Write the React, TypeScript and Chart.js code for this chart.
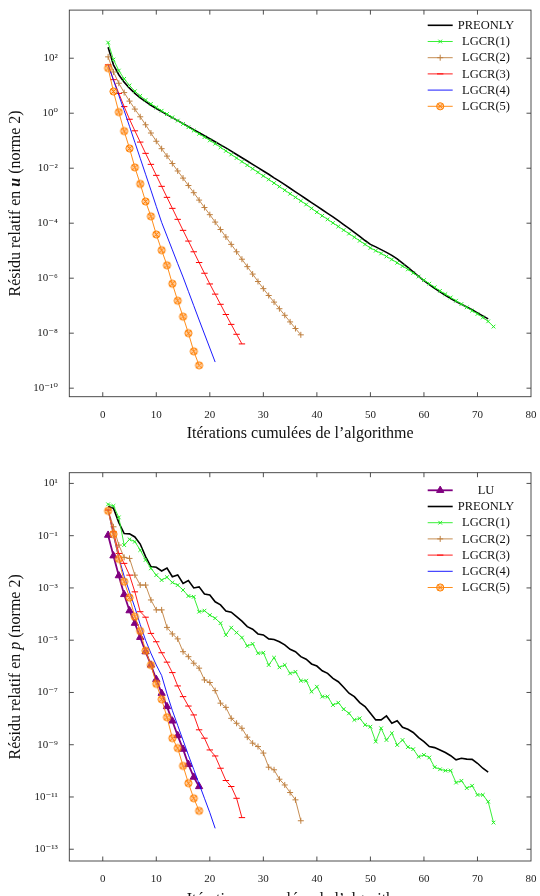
import React, { useEffect, useRef } from 'react';
import { Chart, registerables } from 'chart.js';

Chart.register(...registerables);

const SERIF = '"Liberation Serif", "DejaVu Serif", serif';

// ---------- DATA (log10 of the relative residual; iteration = index + 1) ----------
// Panel 1: residual on u
const U_PREONLY = [2.40, 1.76, 1.40, 1.13, 0.91, 0.72, 0.56, 0.42, 0.29, 0.17, 0.06, -0.05, -0.16, -0.27, -0.38, -0.49, -0.60, -0.71, -0.82, -0.93,
  -1.04, -1.15, -1.26, -1.38, -1.50, -1.62, -1.74, -1.86, -1.98, -2.10, -2.22, -2.35, -2.47, -2.60, -2.73, -2.86, -2.99, -3.12, -3.25, -3.38,
  -3.51, -3.64, -3.77, -3.91, -4.05, -4.19, -4.33, -4.48, -4.63, -4.77, -4.86, -4.96, -5.06, -5.17, -5.30, -5.45, -5.61, -5.77, -5.93, -6.09,
  -6.23, -6.37, -6.50, -6.62, -6.74, -6.85, -6.95, -7.05, -7.15, -7.26, -7.37, -7.48];
const U_LGCR1 = [2.57, 1.95, 1.55, 1.25, 1.01, 0.80, 0.63, 0.48, 0.34, 0.21, 0.09, -0.03, -0.15, -0.27, -0.39, -0.51, -0.63, -0.75, -0.87, -0.99,
  -1.11, -1.24, -1.37, -1.50, -1.63, -1.76, -1.89, -2.02, -2.15, -2.28, -2.41, -2.54, -2.67, -2.80, -2.93, -3.06, -3.19, -3.32, -3.46, -3.60,
  -3.73, -3.86, -3.99, -4.12, -4.25, -4.38, -4.51, -4.64, -4.77, -4.90, -5.00, -5.10, -5.21, -5.32, -5.44, -5.56, -5.68, -5.81, -5.94, -6.07,
  -6.20, -6.33, -6.46, -6.58, -6.70, -6.82, -6.94, -7.06, -7.18, -7.30, -7.43, -7.57, -7.76];
const U_LGCR2 = [2.05, 1.50, 1.09, 0.75, 0.44, 0.15, -0.13, -0.42, -0.72, -1.02, -1.29, -1.56, -1.83, -2.10, -2.36, -2.63, -2.89, -3.16, -3.43, -3.69,
  -3.96, -4.23, -4.50, -4.77, -5.04, -5.31, -5.58, -5.85, -6.12, -6.38, -6.63, -6.87, -7.11, -7.35, -7.59, -7.83, -8.06];
const U_LGCR3 = [1.76, 1.22, 0.72, 0.24, -0.22, -0.64, -1.05, -1.46, -1.86, -2.26, -2.66, -3.06, -3.46, -3.86, -4.26, -4.65, -5.04, -5.43, -5.82, -6.21,
  -6.58, -6.95, -7.32, -7.68, -8.04, -8.39];
const U_LGCR4 = [1.76, 1.20, 0.65, 0.10, -0.48, -1.06, -1.64, -2.22, -2.80, -3.39, -3.97, -4.47, -4.97, -5.47, -5.96, -6.48, -7.00, -7.52, -8.03, -8.54, -9.05];
const U_LGCR5 = [1.64, 0.79, 0.04, -0.65, -1.28, -1.97, -2.57, -3.21, -3.75, -4.41, -4.98, -5.53, -6.20, -6.82, -7.40, -8.00, -8.66, -9.17];

// Panel 2: residual on p
const P_LU = [-0.98, -1.77, -2.53, -3.25, -3.87, -4.35, -4.89, -5.44, -5.95, -6.50, -7.03, -7.54, -8.09, -8.65, -9.17, -9.75, -10.24, -10.60];
const P_PREONLY = [0.12, 0.05, -0.50, -0.92, -0.93, -1.05, -1.32, -1.80, -2.18, -2.21, -2.35, -2.24, -2.57, -2.50, -2.83, -2.72, -3.00, -2.96, -3.23, -3.27,
  -3.53, -3.65, -3.88, -3.93, -4.10, -4.27, -4.48, -4.58, -4.76, -4.80, -4.95, -4.97, -5.06, -5.18, -5.35, -5.44, -5.63, -5.73, -5.91, -5.99,
  -6.17, -6.27, -6.46, -6.59, -6.80, -7.03, -7.16, -7.39, -7.54, -7.80, -8.05, -8.05, -7.90, -8.18, -8.08, -8.33, -8.41, -8.53, -8.73, -8.88,
  -9.07, -9.11, -9.20, -9.30, -9.42, -9.58, -9.52, -9.55, -9.56, -9.71, -9.90, -10.05];
const P_LGCR1 = [0.20, 0.14, -0.30, -1.36, -1.14, -1.23, -1.55, -1.93, -2.25, -2.51, -2.70, -2.59, -2.79, -2.89, -3.08, -3.31, -3.34, -3.91, -3.87, -4.04,
  -4.16, -4.35, -4.80, -4.52, -4.71, -4.90, -5.22, -5.14, -5.50, -5.48, -5.95, -5.67, -6.04, -5.95, -6.27, -6.21, -6.55, -6.55, -6.97, -6.78,
  -7.16, -7.16, -7.48, -7.39, -7.64, -7.80, -8.05, -7.99, -8.24, -8.31, -8.88, -8.37, -8.82, -8.56, -9.01, -8.82, -9.09, -9.17, -9.46, -9.39,
  -9.49, -9.86, -9.94, -9.99, -9.99, -10.45, -10.38, -10.66, -10.57, -10.92, -10.92, -11.18, -11.98];
const P_LGCR2 = [-0.02, -0.66, -1.36, -1.83, -1.87, -2.51, -2.89, -2.89, -3.46, -3.84, -3.84, -4.51, -4.76, -4.95, -5.44, -5.63, -5.88, -6.07, -6.52, -6.62,
  -6.93, -7.41, -7.57, -7.99, -8.18, -8.37, -8.71, -8.94, -9.07, -9.32, -9.86, -9.96, -10.32, -10.54, -10.83, -11.11, -11.91];
const P_LGCR3 = [-0.02, -0.85, -1.68, -2.06, -2.51, -3.15, -3.91, -4.12, -4.74, -5.06, -5.48, -5.84, -6.24, -6.75, -7.16, -7.52, -7.86, -8.43, -8.75, -9.20,
  -9.43, -9.90, -10.37, -10.60, -11.05, -11.79];
const P_LGCR4 = [0.00, -1.00, -1.85, -2.55, -3.15, -3.75, -4.40, -5.00, -5.50, -5.95, -6.35, -7.05, -7.69, -8.26, -8.83, -9.40, -9.95, -10.50, -11.05, -11.60, -12.20];
const P_LGCR5 = [-0.05, -0.94, -1.89, -2.76, -3.37, -4.10, -4.65, -5.40, -5.95, -6.67, -7.26, -7.95, -8.75, -9.13, -9.81, -10.47, -11.05, -11.53];

const LABELS_U = ['PREONLY', 'LGCR(1)', 'LGCR(2)', 'LGCR(3)', 'LGCR(4)', 'LGCR(5)'];
const LABELS_P = ['LU', 'PREONLY', 'LGCR(1)', 'LGCR(2)', 'LGCR(3)', 'LGCR(4)', 'LGCR(5)'];

const X_TICKS = [0, 10, 20, 30, 40, 50, 60, 70, 80];
const U_Y_EXPONENTS = [-10, -8, -6, -4, -2, 0, 2];
const P_Y_EXPONENTS = [-13, -11, -9, -7, -5, -3, -1, 1];

const X_TITLE = 'Itérations cumulées de l’algorithme';

// ---------- STYLES ----------
type Marker = 'none' | 'crossRot' | 'cross' | 'line' | 'otimes' | 'triangle';
interface SeriesStyle { color: string; width: number; marker: Marker; r: number; fill?: string }
const STYLE: Record<string, SeriesStyle> = {
  LU: { color: '#800080', width: 1.8, marker: 'triangle', r: 4.2 },
  PREONLY: { color: '#000000', width: 1.6, marker: 'none', r: 0 },
  'LGCR(1)': { color: '#22ee22', width: 0.9, marker: 'crossRot', r: 2.6 },
  'LGCR(2)': { color: '#bf8040', width: 0.9, marker: 'cross', r: 3 },
  'LGCR(3)': { color: '#ff0000', width: 0.9, marker: 'line', r: 3.2 },
  'LGCR(4)': { color: '#0000ff', width: 0.9, marker: 'none', r: 0 },
  'LGCR(5)': { color: '#ff8000', width: 0.9, marker: 'otimes', r: 3.6, fill: 'rgba(255,150,60,0.45)' },
};

const SUP: Record<string, string> = { '0': '⁰', '1': '¹', '2': '²', '3': '³', '4': '⁴', '5': '⁵', '6': '⁶', '7': '⁷', '8': '⁸', '9': '⁹', '-': '⁻' };
function pow10Label(e: number): string {
  return '10' + String(e).split('').map((c) => SUP[c] || c).join('');
}

function drawMarker(ctx: CanvasRenderingContext2D, st: SeriesStyle, x: number, y: number) {
  const r = st.r;
  ctx.save();
  ctx.strokeStyle = st.color;
  ctx.fillStyle = st.fill || st.color;
  ctx.lineWidth = 1;
  ctx.beginPath();
  if (st.marker === 'crossRot' || st.marker === 'otimes') {
    if (st.marker === 'otimes') {
      ctx.arc(x, y, r, 0, Math.PI * 2);
      ctx.fill();
      ctx.stroke();
      ctx.beginPath();
    }
    const d = r * 0.7071;
    ctx.moveTo(x - d, y - d); ctx.lineTo(x + d, y + d);
    ctx.moveTo(x - d, y + d); ctx.lineTo(x + d, y - d);
    ctx.stroke();
  } else if (st.marker === 'cross') {
    ctx.moveTo(x - r, y); ctx.lineTo(x + r, y);
    ctx.moveTo(x, y - r); ctx.lineTo(x, y + r);
    ctx.stroke();
  } else if (st.marker === 'line') {
    ctx.moveTo(x - r, y); ctx.lineTo(x + r, y);
    ctx.stroke();
  } else if (st.marker === 'triangle') {
    ctx.moveTo(x, y - r);
    ctx.lineTo(x + r * 0.866, y + r * 0.5);
    ctx.lineTo(x - r * 0.866, y + r * 0.5);
    ctx.closePath();
    ctx.fill();
    ctx.stroke();
  }
  ctx.restore();
}

function makeOtimesImage(st: SeriesStyle): HTMLCanvasElement {
  const c = document.createElement('canvas');
  const s = Math.ceil(st.r * 2 + 3);
  c.width = s; c.height = s;
  const ctx = c.getContext('2d') as CanvasRenderingContext2D;
  drawMarker(ctx, st, s / 2, s / 2);
  return c;
}

// ---------- PLUGINS ----------
const framePlugin = {
  id: 'pgfFrame',
  afterDraw(chart: any) {
    const { ctx, chartArea: a, scales } = chart;
    const L = 4.5;
    ctx.save();
    ctx.strokeStyle = '#3a3a3a';
    ctx.lineWidth = 0.9;
    ctx.strokeRect(a.left, a.top, a.right - a.left, a.bottom - a.top);
    ctx.beginPath();
    scales.x.ticks.forEach((t: any) => {
      const px = scales.x.getPixelForValue(t.value);
      if (px > a.left + 1 && px < a.right - 1) {
        ctx.moveTo(px, a.bottom); ctx.lineTo(px, a.bottom - L);
        ctx.moveTo(px, a.top); ctx.lineTo(px, a.top + L);
      }
    });
    scales.y.ticks.forEach((t: any) => {
      const py = scales.y.getPixelForValue(t.value);
      ctx.moveTo(a.left, py); ctx.lineTo(a.left + L, py);
      ctx.moveTo(a.right, py); ctx.lineTo(a.right - L, py);
    });
    ctx.stroke();
    ctx.restore();
  },
};

const legendPlugin = {
  id: 'pgfLegend',
  afterDraw(chart: any, _args: any, opts: any) {
    const { ctx } = chart;
    ctx.save();
    ctx.font = `${opts.fontSize}px ${SERIF}`;
    ctx.textAlign = 'center';
    ctx.textBaseline = 'middle';
    chart.data.datasets.forEach((ds: any, i: number) => {
      const st: SeriesStyle = STYLE[ds.label];
      const y = opts.y0 + i * opts.dy;
      ctx.strokeStyle = st.color;
      ctx.lineWidth = st.width;
      ctx.beginPath();
      ctx.moveTo(opts.x0, y);
      ctx.lineTo(opts.x1, y);
      ctx.stroke();
      if (st.marker !== 'none') drawMarker(ctx, st, (opts.x0 + opts.x1) / 2, y);
      ctx.fillStyle = '#111';
      ctx.fillText(ds.label, opts.textX, y + 0.5);
    });
    ctx.restore();
  },
};

const yTitlePlugin = {
  id: 'pgfYTitle',
  afterDraw(chart: any, _args: any, opts: any) {
    const { ctx, chartArea: a } = chart;
    const parts: { text: string; font: string }[] = opts.parts;
    ctx.save();
    let total = 0;
    parts.forEach((p) => { ctx.font = p.font; total += ctx.measureText(p.text).width; });
    ctx.translate(opts.x, (a.top + a.bottom) / 2);
    ctx.rotate(-Math.PI / 2);
    ctx.textBaseline = 'middle';
    ctx.textAlign = 'left';
    ctx.fillStyle = '#111';
    let cx = -total / 2;
    parts.forEach((p) => {
      ctx.font = p.font;
      ctx.fillText(p.text, cx, 0);
      cx += ctx.measureText(p.text).width;
    });
    ctx.restore();
  },
};

// ---------- CHART ----------
interface PanelSpec {
  height: number;
  series: number[][];
  labels: string[];
  yExps: number[];
  yMinExp: number;
  yMaxExp: number;
  padTop: number;
  xAxisHeight: number;
  xTitlePadBottom: number;
  legendY0: number;
  symbol: string;
  symbolFont: string;
}

const TITLE_SIZE = 16;
const TICK_SIZE = 11;

function buildConfig(p: PanelSpec): any {
  const n = p.series.length;
  const datasets = p.series.map((vals, i) => {
    const label = p.labels[i];
    const st = STYLE[label];
    const pointStyle: any = st.marker === 'otimes' ? makeOtimesImage(st) : st.marker === 'none' ? false : st.marker;
    return {
      label,
      data: vals.map((v, k) => ({ x: k + 1, y: Math.pow(10, v) })),
      borderColor: st.color,
      backgroundColor: st.color,
      borderWidth: st.width,
      pointStyle,
      pointRadius: st.marker === 'none' ? 0 : st.r,
      pointHoverRadius: st.marker === 'none' ? 0 : st.r,
      pointBorderWidth: 1,
      pointBorderColor: st.color,
      pointBackgroundColor: st.color,
      tension: 0,
      order: n - i,
    };
  });
  return {
    type: 'line',
    data: { datasets },
    plugins: [framePlugin, legendPlugin, yTitlePlugin],
    options: {
      animation: false,
      responsive: false,
      devicePixelRatio: 1,
      events: [],
      layout: { padding: { top: p.padTop, right: 8.3, bottom: 0, left: 0 } },
      plugins: {
        legend: { display: false },
        tooltip: { enabled: false },
        pgfLegend: { x0: 427.7, x1: 452.7, textX: 486, y0: p.legendY0, dy: 16.2, fontSize: 12.5 },
        pgfYTitle: {
          x: 16,
          parts: [
            { text: 'Résidu relatif en ', font: `${TITLE_SIZE}px ${SERIF}` },
            { text: p.symbol, font: p.symbolFont },
            { text: ' (norme 2)', font: `${TITLE_SIZE}px ${SERIF}` },
          ],
        },
      },
      scales: {
        x: {
          type: 'linear',
          min: -6.25,
          max: 80,
          grid: { display: false },
          border: { display: false },
          afterBuildTicks: (s: any) => { s.ticks = X_TICKS.map((v) => ({ value: v })); },
          afterFit: (s: any) => { s.height = p.xAxisHeight; },
          ticks: { autoSkip: false, maxRotation: 0, padding: 3.5, color: '#222', font: { size: TICK_SIZE, family: SERIF } },
          title: {
            display: true,
            text: X_TITLE,
            color: '#111',
            font: { size: TITLE_SIZE, family: SERIF },
            padding: { top: 0, bottom: p.xTitlePadBottom },
          },
        },
        y: {
          type: 'logarithmic',
          min: Math.pow(10, p.yMinExp),
          max: Math.pow(10, p.yMaxExp),
          grid: { display: false },
          border: { display: false },
          afterBuildTicks: (s: any) => { s.ticks = p.yExps.map((e) => ({ value: Math.pow(10, e) })); },
          afterFit: (s: any) => { s.width = 69.3; },
          ticks: {
            padding: 3.5,
            color: '#222',
            font: { size: TICK_SIZE, family: SERIF },
            callback: (v: any) => pow10Label(Math.round(Math.log10(Number(v)))),
          },
        },
      },
    },
  };
}

const PANEL_U: PanelSpec = {
  height: 448,
  series: [U_PREONLY, U_LGCR1, U_LGCR2, U_LGCR3, U_LGCR4, U_LGCR5],
  labels: LABELS_U,
  yExps: U_Y_EXPONENTS,
  yMinExp: -10.31,
  yMaxExp: 3.75,
  padTop: 7.3,
  xAxisHeight: 448 - 396.7,
  xTitlePadBottom: 5,
  legendY0: 25.3,
  symbol: 'u',
  symbolFont: `italic bold ${TITLE_SIZE}px ${SERIF}`,
};

const PANEL_P: PanelSpec = {
  height: 470,
  series: [P_LU, P_PREONLY, P_LGCR1, P_LGCR2, P_LGCR3, P_LGCR4, P_LGCR5],
  labels: LABELS_P,
  yExps: P_Y_EXPONENTS,
  yMinExp: -13.45,
  yMaxExp: 1.41,
  padTop: 24.7,
  xAxisHeight: 470 - 413,
  xTitlePadBottom: 9,
  legendY0: 42.3,
  symbol: 'p',
  symbolFont: `italic ${TITLE_SIZE}px ${SERIF}`,
};

function Panel({ spec, top }: { spec: PanelSpec; top: number }) {
  const ref = useRef<HTMLCanvasElement | null>(null);
  useEffect(() => {
    if (!ref.current) return;
    const chart = new Chart(ref.current, buildConfig(spec));
    return () => chart.destroy();
  }, [spec]);
  return (
    <canvas
      ref={ref}
      width={540}
      height={spec.height}
      style={{ position: 'absolute', left: 0, top, width: 540, height: spec.height, display: 'block' }}
    />
  );
}

export default function App() {
  return (
    <div style={{ position: 'fixed', left: 0, top: 0, width: 540, height: 896, overflow: 'hidden', background: '#fff' }}>
      <Panel spec={PANEL_U} top={0} />
      <Panel spec={PANEL_P} top={448} />
    </div>
  );
}
